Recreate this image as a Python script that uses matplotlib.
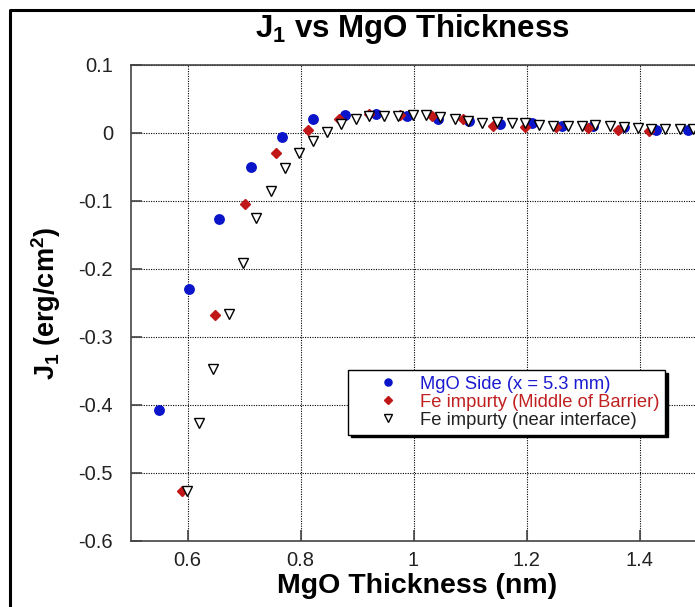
import matplotlib

matplotlib.use("Agg")
import matplotlib.pyplot as plt  # noqa: E402
from matplotlib.legend_handler import HandlerLine2D  # noqa: E402
from matplotlib.lines import Line2D  # noqa: E402

plt.rcParams["font.family"] = ["Liberation Sans", "DejaVu Sans"]
plt.rcParams["mathtext.fontset"] = "custom"
plt.rcParams["mathtext.rm"] = "Liberation Sans:bold"
plt.rcParams["mathtext.bf"] = "Liberation Sans:bold"
plt.rcParams["mathtext.default"] = "bf"

# MgO side (x = 5.3 mm)
mgo_x = [0.549, 0.603, 0.656, 0.713, 0.768, 0.823, 0.878, 0.933, 0.988, 1.044,
         1.099, 1.153, 1.209, 1.263, 1.318, 1.373, 1.429, 1.485]
mgo_y = [-0.408, -0.229, -0.126, -0.050, -0.006, 0.021, 0.026, 0.028, 0.025, 0.021,
         0.017, 0.013, 0.014, 0.011, 0.011, 0.009, 0.005, 0.005]

# Fe impurity, middle of barrier
mid_x = [0.591, 0.649, 0.702, 0.757, 0.813, 0.868, 0.922, 0.976, 1.032, 1.087,
         1.141, 1.197, 1.252, 1.308, 1.362, 1.417]
mid_y = [-0.526, -0.268, -0.105, -0.030, 0.004, 0.020, 0.028, 0.026, 0.025, 0.021,
         0.011, 0.009, 0.009, 0.007, 0.005, 0.003]

# Fe impurity, near interface
int_x = [0.599, 0.621, 0.646, 0.673, 0.698, 0.722, 0.747, 0.773, 0.798, 0.822,
         0.847, 0.872, 0.898, 0.922, 0.947, 0.973, 0.999, 1.022, 1.047, 1.073,
         1.097, 1.121, 1.147, 1.174, 1.197, 1.223, 1.247, 1.273, 1.298, 1.321,
         1.347, 1.373, 1.397, 1.421, 1.446, 1.472, 1.495]
int_y = [-0.526, -0.427, -0.347, -0.266, -0.191, -0.125, -0.085, -0.052, -0.030, -0.012,
         0.001, 0.013, 0.020, 0.025, 0.025, 0.025, 0.026, 0.026, 0.023, 0.021,
         0.018, 0.015, 0.016, 0.015, 0.014, 0.012, 0.011, 0.010, 0.011, 0.012,
         0.010, 0.009, 0.007, 0.006, 0.006, 0.006, 0.006]

x_ticks = [0.6, 0.8, 1.0, 1.2, 1.4]
x_tick_labels = ["0.6", "0.8", "1", "1.2", "1.4"]
y_ticks = [0.1, 0.0, -0.1, -0.2, -0.3, -0.4, -0.5, -0.6]
y_tick_labels = ["0.1", "0", "-0.1", "-0.2", "-0.3", "-0.4", "-0.5", "-0.6"]

W, H = 695, 607
fig = plt.figure(figsize=(W / 100, H / 100), dpi=100)
# axes box in pixels: left 131, right 696, top 65, bottom 541
ax = fig.add_axes([131 / W, 1 - 541 / H, 565 / W, 476 / H])

ax.plot(mgo_x, mgo_y, "o", ls="none", ms=6.8, color="#0a14c8", mec="#0a14c8",
        label="MgO Side (x = 5.3 mm)")
ax.plot(mid_x, mid_y, "D", ls="none", ms=5.0, color="#c01818", mec="#c01818",
        label="Fe impurty (Middle of Barrier)")
ax.plot(int_x, int_y, "v", ls="none", ms=6.8, mfc="white", mec="black", mew=1.0,
        label="Fe impurty (near interface)")

ax.set_xlim(0.5, 1.5)
ax.set_ylim(-0.6, 0.1)
ax.set_xticks(x_ticks, x_tick_labels)
ax.set_yticks(y_ticks, y_tick_labels)
ax.tick_params(direction="in", length=8, width=1.2, color="#444444",
               labelsize=14.5, labelcolor="#222222")
ax.tick_params(axis="y", pad=13)
ax.tick_params(axis="x", pad=7)
ax.grid(True, color="black", ls=(0, (1, 1.2)), lw=0.8)
ax.set_axisbelow(True)
for sp in ax.spines.values():
    sp.set_color("#444444")
    sp.set_linewidth(1.2)

fig.text(412 / W, 1 - 37 / H, r"J$_1$ vs MgO Thickness", ha="center", va="baseline",
         fontsize=22.5, fontweight="bold")
fig.text(417 / W, 1 - 593 / H, "MgO Thickness (nm)", ha="center", va="baseline",
         fontsize=20.5, fontweight="bold")
fig.text(46 / W, 1 - 303 / H, r"J$_1$ (erg/cm$^2$)", ha="center", va="center",
         rotation=90, fontsize=19.5, fontweight="bold")

# markers sit well inside the box, text starts a little after them
shifted = HandlerLine2D(xpad=0.45)
leg = ax.legend(loc="upper left", bbox_to_anchor=(348 / W, 1 - 370 / H),
                bbox_transform=fig.transFigure, fontsize=13.2, frameon=True,
                fancybox=False, shadow={"color": "black", "alpha": 1.0},
                edgecolor="black", framealpha=1, borderpad=0.32, labelspacing=0.05,
                handlelength=3.3, handletextpad=0.3, borderaxespad=0,
                markerscale=0.75, handler_map={Line2D: shifted})
leg.get_frame().set_linewidth(1.0)
for txt, col in zip(leg.get_texts(), ["#1a1ad0", "#c02020", "#222222"]):
    txt.set_color(col)

# outer figure frame (left and top edges visible)
fig.add_artist(Line2D([10 / W, 10 / W, 1.01], [-0.01, 1 - 10 / H, 1 - 10 / H],
                      transform=fig.transFigure, color="black", lw=2.2))

fig.savefig("out.png", dpi=100)
